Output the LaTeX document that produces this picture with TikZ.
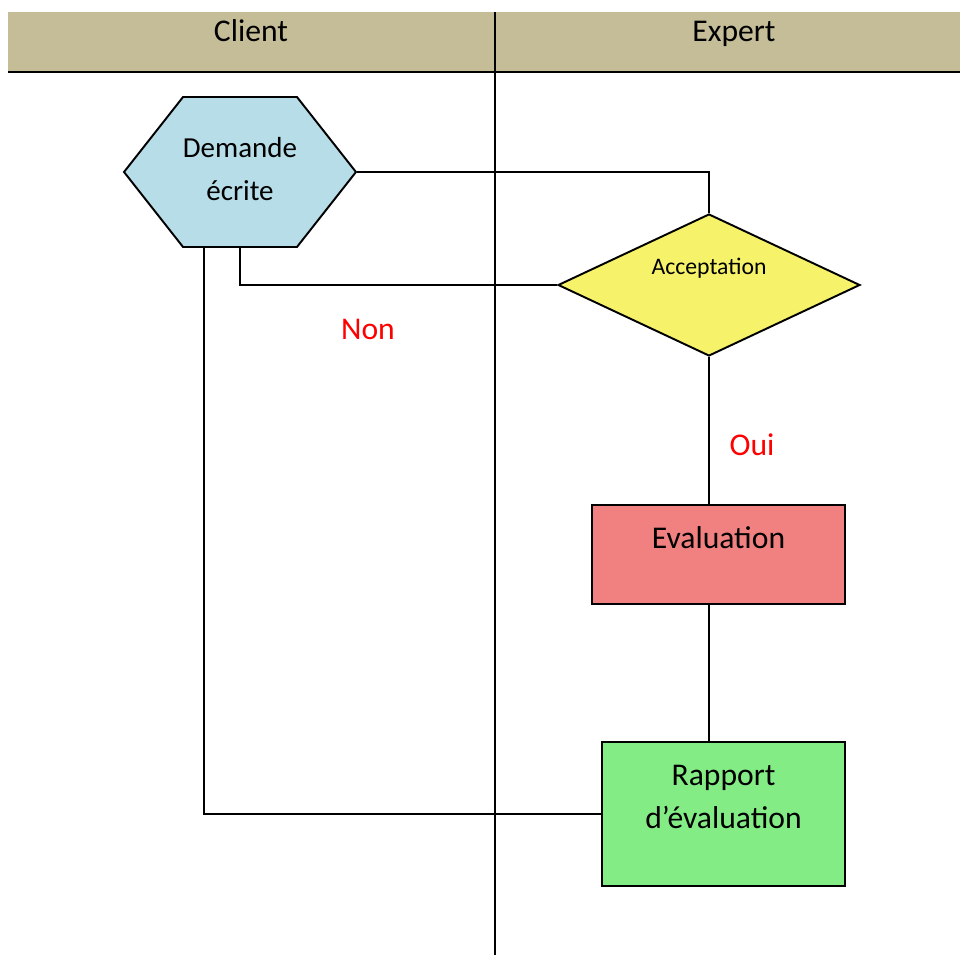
\documentclass[tikz,border=0pt]{standalone}
\usepackage{fontspec}
\setmainfont{Carlito}
\usepackage{xcolor}
\usepackage{tikz}
\definecolor{lanetan}{RGB}{196,189,151}
\definecolor{hexblue}{RGB}{183,221,232}
\definecolor{decyellow}{RGB}{246,243,106}
\definecolor{evalred}{RGB}{241,128,128}
\definecolor{reportgreen}{RGB}{132,236,132}
\definecolor{labelred}{RGB}{255,0,0}
\usetikzlibrary{shapes.geometric,shapes.symbols,calc}

\begin{document}
\begin{tikzpicture}[x=0.02cm,y=-0.02cm,
    box/.style={draw,line width=1.1pt,inner sep=0pt},
    link/.style={line width=1.1pt},
    txt/.style={inner sep=0pt,align=center,font=\fontsize{18}{25}\selectfont}]
    \useasboundingbox (0,0) rectangle (960,956);
    % Lanes
    \fill[lanetan] (8,12) rectangle (960,72);
    \node[txt,anchor=base] (client) at (251,42) {Client};
    \node[txt,anchor=base] (expert) at (734,42) {Expert};
    \draw[line width=1.6pt] (8,72) -- (960,72);
    \draw[line width=1.6pt] (495,12) -- (495,955);
    % Shapes
    \node[box,fill=hexblue,signal,signal to=east and west,signal pointer angle=103.6,
          minimum width=4.64cm,minimum height=3cm] (demande) at (240,172) {};
    \node[box,fill=decyellow,diamond,minimum width=6.04cm,minimum height=2.84cm] (accept) at (709,285) {};
    \node[box,fill=evalred,minimum width=5.06cm,minimum height=1.98cm] (eval) at (718.5,554.5) {};
    \node[box,fill=reportgreen,minimum width=4.86cm,minimum height=2.88cm] (rapport) at (723.5,814) {};
    % Texts
    \node[txt,font=\fontsize{16.5}{24}\selectfont] (demandetxt) at ($(demande)+(0,-3)$) {Demande\\écrite};
    \node[txt,font=\fontsize{13.5}{16}\selectfont] (accepttxt) at ($(accept)+(0,-17)$) {Acceptation};
    \node[txt] (evaltxt) at ($(eval)+(0,-17)$) {Evaluation};
    \node[txt] (rapporttxt) at ($(rapport)+(0,-17)$) {Rapport\\d’évaluation};
    \node[txt,text=labelred] (non) at (368,329) {Non};
    \node[txt,text=labelred] (oui) at (752,445) {Oui};
    % Links
    \draw[link] (demande.east) -| (accept.north);
    \draw[link] (accept.west) -| (demande.south);
    \draw[link] (accept.south) -- (accept.south |- eval.north);
    \draw[link] (accept.south |- eval.south) -- (accept.south |- rapport.north);
    \draw[link] (rapport.west) -| ($(demande.south)+(-36,0)$);
\end{tikzpicture}
\end{document}
